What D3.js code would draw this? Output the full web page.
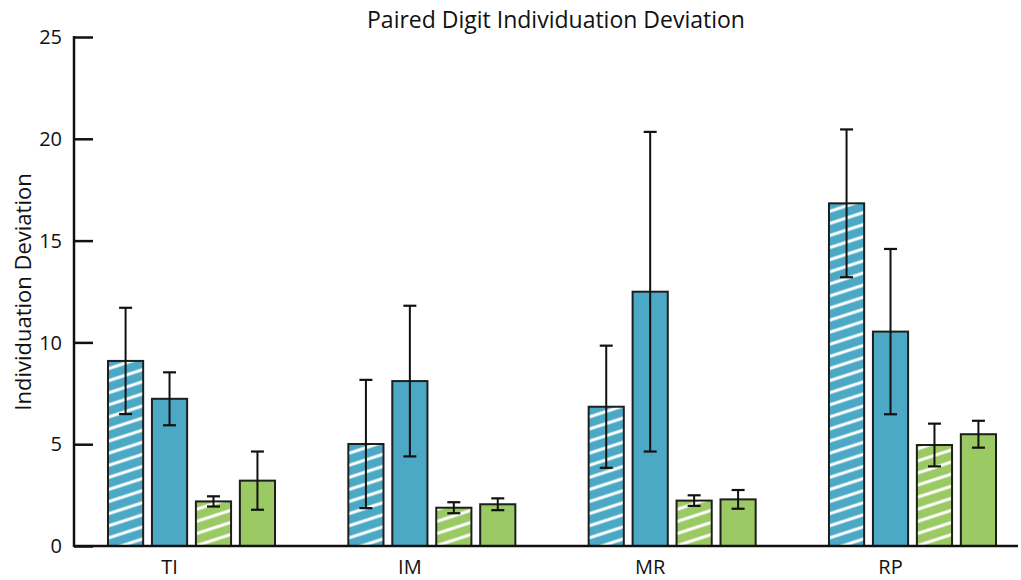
<!DOCTYPE html>
<html>
<head>
<meta charset="utf-8">
<script src="https://cdn.jsdelivr.net/npm/d3@7"></script>
<style>
  html, body { margin: 0; padding: 0; background: #fff; }
  svg { display: block; font-family: "Open Sans", "Noto Sans", sans-serif; }
</style>
</head>
<body>
<svg id="chart" width="1021" height="580"></svg>
<script>
// Finger pairs along the x axis
const categories = ["TI", "IM", "MR", "RP"];
// Mean deviation for each of the four bar series
const seriesA = [9.09, 5.01, 6.84, 16.83];   // blue, hatched
const seriesB = [7.23, 8.10, 12.49, 10.53];  // blue, solid
const seriesC = [2.19, 1.88, 2.23, 4.96];    // green, hatched
const seriesD = [3.21, 2.05, 2.29, 5.49];    // green, solid
// Error bar half-lengths for each series
const errA = [2.61, 3.15, 3.00, 3.63];
const errB = [1.30, 3.70, 7.85, 4.06];
const errC = [0.25, 0.27, 0.26, 1.05];
const errD = [1.43, 0.29, 0.46, 0.66];
const yTicks = [0, 5, 10, 15, 20, 25];

const seriesKeys = ["A", "B", "C", "D"];
const seriesVals = { A: seriesA, B: seriesB, C: seriesC, D: seriesD };
const seriesErr = { A: errA, B: errB, C: errC, D: errD };
const seriesFill = { A: "url(#hatchBlue)", B: "#4BA9C5", C: "url(#hatchGreen)", D: "#9BC963" };

const svg = d3.select("#chart");

// Diagonal white stripe patterns
const defs = svg.append("defs");
function hatch(id, color) {
  const p = defs.append("pattern")
    .attr("id", id)
    .attr("patternUnits", "userSpaceOnUse")
    .attr("width", 12).attr("height", 11.5)
    .attr("patternTransform", "rotate(-18)");
  p.append("rect").attr("width", 12).attr("height", 11.5).attr("fill", color);
  p.append("line").attr("x1", 0).attr("x2", 12).attr("y1", 5.75).attr("y2", 5.75)
    .attr("stroke", "#fff").attr("stroke-width", 3);
}
hatch("hatchBlue", "#4BA9C5");
hatch("hatchGreen", "#9BC963");

const axisX = 74, baseY = 546, topY = 37, rightX = 1018;

const y = d3.scaleLinear().domain([0, 25]).range([baseY, topY]);
const x0 = d3.scaleBand().domain(categories).range([108, 996]).paddingInner(0.305);
const x1 = d3.scaleBand().domain(seriesKeys).range([0, x0.bandwidth()]).paddingInner(0.2);

// Bars
const groups = svg.append("g").selectAll("g")
  .data(categories)
  .join("g")
  .attr("transform", d => `translate(${x0(d)},0)`);

const cells = groups.selectAll("g.cell")
  .data((c, i) => seriesKeys.map(k => ({ key: k, v: seriesVals[k][i], e: seriesErr[k][i] })))
  .join("g").attr("class", "cell");

cells.append("rect")
  .attr("x", d => x1(d.key))
  .attr("width", x1.bandwidth())
  .attr("y", d => y(d.v))
  .attr("height", d => y(0) - y(d.v))
  .attr("fill", d => seriesFill[d.key])
  .attr("stroke", "#1e1e1e")
  .attr("stroke-width", 2);

// Error bars
const capW = 13;
cells.append("line")
  .attr("x1", d => x1(d.key) + x1.bandwidth() / 2)
  .attr("x2", d => x1(d.key) + x1.bandwidth() / 2)
  .attr("y1", d => y(d.v + d.e))
  .attr("y2", d => y(d.v - d.e))
  .attr("stroke", "#111").attr("stroke-width", 2);
["top", "bottom"].forEach(side => {
  cells.append("line")
    .attr("x1", d => x1(d.key) + x1.bandwidth() / 2 - capW / 2)
    .attr("x2", d => x1(d.key) + x1.bandwidth() / 2 + capW / 2)
    .attr("y1", d => y(side === "top" ? d.v + d.e : d.v - d.e))
    .attr("y2", d => y(side === "top" ? d.v + d.e : d.v - d.e))
    .attr("stroke", "#111").attr("stroke-width", 2.2);
});

// Y axis with inward ticks
const yAxis = d3.axisRight(y).tickValues(yTicks).tickSize(19).tickFormat("");
const yg = svg.append("g").attr("transform", `translate(${axisX},0)`).call(yAxis);
yg.select(".domain").remove();
yg.selectAll(".tick line").attr("stroke", "#111").attr("stroke-width", 2.5);
svg.append("line")
  .attr("x1", axisX).attr("x2", axisX)
  .attr("y1", y(25) - 1).attr("y2", baseY + 1)
  .attr("stroke", "#111").attr("stroke-width", 2.5);

svg.append("g").selectAll("text")
  .data(yTicks)
  .join("text")
  .attr("x", 62)
  .attr("y", d => y(d))
  .attr("dy", "0.36em")
  .attr("text-anchor", "end")
  .attr("font-size", 20)
  .attr("fill", "#111")
  .text(d => d);

// X baseline
svg.append("line")
  .attr("x1", axisX).attr("x2", rightX)
  .attr("y1", baseY).attr("y2", baseY)
  .attr("stroke", "#111").attr("stroke-width", 2.5);

// Category labels
svg.append("g").selectAll("text")
  .data(categories)
  .join("text")
  .attr("x", d => x0(d) + x1("B") + x1.bandwidth() / 2)
  .attr("y", 574)
  .attr("text-anchor", "middle")
  .attr("font-size", 20)
  .attr("fill", "#111")
  .text(d => d);

// Titles
svg.append("text")
  .attr("x", 556).attr("y", 28)
  .attr("text-anchor", "middle")
  .attr("font-size", 23)
  .attr("fill", "#111")
  .text("Paired Digit Individuation Deviation");

svg.append("text")
  .attr("transform", "translate(31,292) rotate(-90)")
  .attr("text-anchor", "middle")
  .attr("font-size", 22)
  .attr("fill", "#111")
  .text("Individuation Deviation");
</script>
</body>
</html>
